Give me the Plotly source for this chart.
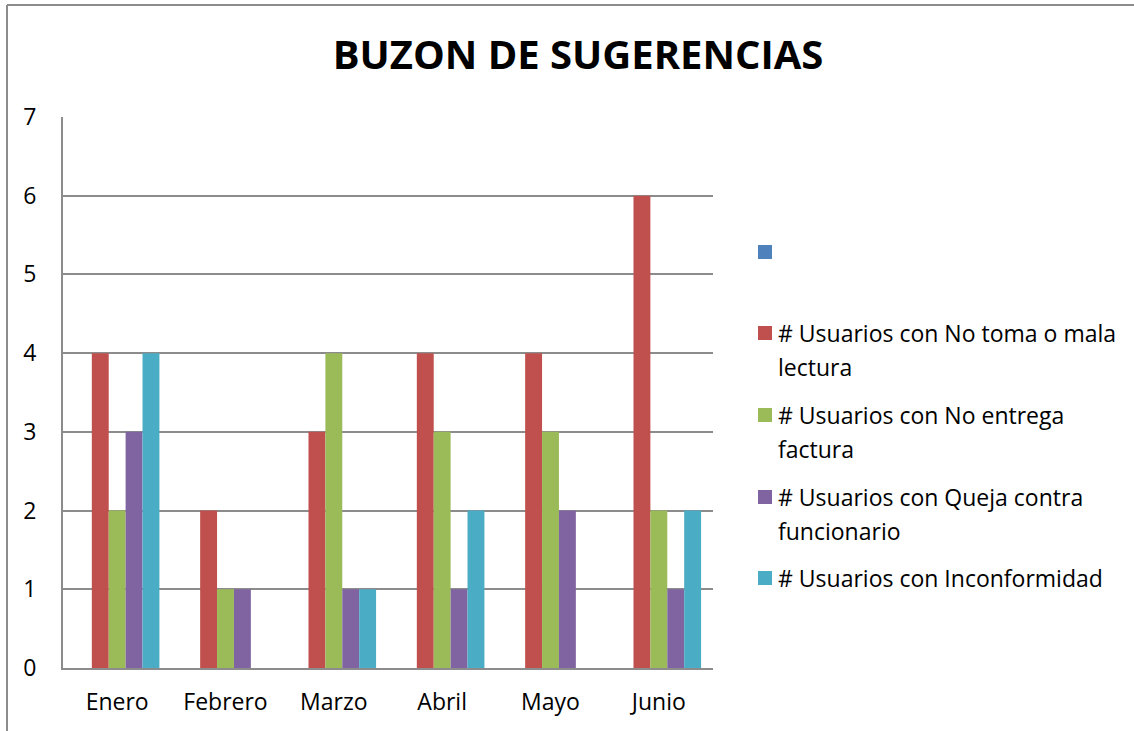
import plotly.graph_objects as go

months = ["Enero", "Febrero", "Marzo", "Abril", "Mayo", "Junio"]
series_names = [
    "",
    "# Usuarios con No toma o mala<br>lectura",
    "# Usuarios con No entrega<br>factura",
    "# Usuarios con Queja contra<br>funcionario",
    "# Usuarios con Inconformidad",
]
blank_vals = [0, 0, 0, 0, 0, 0]
no_toma = [4, 2, 3, 4, 4, 6]
no_entrega = [2, 1, 4, 3, 3, 2]
queja = [3, 1, 1, 1, 2, 1]
inconformidad = [4, 0, 1, 2, 0, 2]
colors = ["#4F81BD", "#C0504D", "#9BBB59", "#8064A2", "#4BACC6"]
y_ticks = [0, 1, 2, 3, 4, 5, 6, 7]

all_vals = [blank_vals, no_toma, no_entrega, queja, inconformidad]

W, H = 1134, 731
L, R, T, B = 63, 713, 117, 668
FONT = "Open Sans"

fig = go.Figure()
for name, vals, col in zip(series_names, all_vals, colors):
    fig.add_trace(go.Bar(x=months, y=vals, name=name, marker=dict(color=col, line=dict(width=0)),
                         showlegend=False))

def px_x(p):
    return (p - L) / (R - L)

def px_y(p):
    return (B - p) / (B - T)

shapes = [
    dict(type="line", xref="paper", yref="paper", x0=px_x(7), x1=px_x(W), y0=px_y(5), y1=px_y(5),
         line=dict(color="#8c8c8c", width=2)),
    dict(type="line", xref="paper", yref="paper", x0=px_x(7), x1=px_x(7), y0=px_y(5), y1=px_y(H),
         line=dict(color="#8c8c8c", width=2)),
]
annotations = []

# manual legend
legend_y = [252, 333, 415, 497, 578]
for name, col, yc in zip(series_names, colors, legend_y):
    shapes.append(dict(type="rect", xref="paper", yref="paper",
                       x0=px_x(758), x1=px_x(772), y0=px_y(yc - 7), y1=px_y(yc + 7),
                       fillcolor=col, line=dict(width=0)))
    for i, line in enumerate(name.split("<br>")):
        if not line:
            continue
        annotations.append(dict(xref="paper", yref="paper", x=px_x(776), y=px_y(yc + 34 * i),
                                text=line, showarrow=False, xanchor="left", yanchor="middle",
                                font=dict(family=FONT, size=23, color="#000000")))

fig.update_layout(
    width=W, height=H,
    margin=dict(l=L, r=W - R, t=T, b=H - B),
    paper_bgcolor="white", plot_bgcolor="white",
    barmode="group", bargap=0.22, bargroupgap=0,
    title=dict(text="<b>BUZON DE SUGERENCIAS</b>", x=578 / W, xanchor="center",
               y=1 - 55 / H, yanchor="middle",
               font=dict(family=FONT, size=40, color="#000000")),
    font=dict(family=FONT, size=23, color="#000000"),
    shapes=shapes, annotations=annotations,
)
fig.update_yaxes(range=[0, 7], tickvals=y_ticks, showgrid=True, gridcolor="#8c8c8c", gridwidth=2,
                 showline=True, linecolor="#8c8c8c", linewidth=2, ticks="", ticklabelstandoff=20,
                 zeroline=False, tickfont=dict(family=FONT, size=23))
fig.update_xaxes(showline=True, linecolor="#8c8c8c", linewidth=2, ticks="", ticklabelstandoff=12,
                 tickfont=dict(family=FONT, size=23))

fig.write_html("out.html", config={"displayModeBar": False},
               post_script="document.body.style.margin='0';")
